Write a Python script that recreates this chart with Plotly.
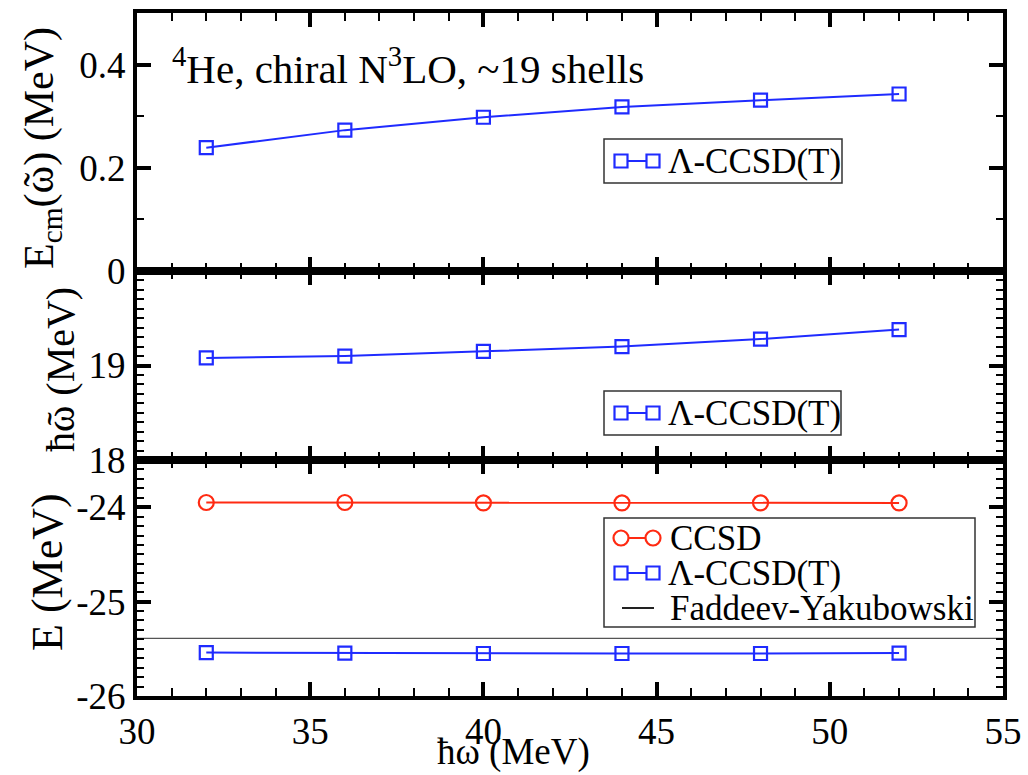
import plotly.graph_objects as go
from plotly.subplots import make_subplots

# Oscillator frequencies (MeV)
hw = [32, 36, 40, 44, 48, 52]

# Centre-of-mass energy E_cm(w~) from Lambda-CCSD(T)
ecm_lccsdt = [0.239, 0.273, 0.298, 0.318, 0.331, 0.343]

# Effective frequency hbar w~ from Lambda-CCSD(T)
hw_tilde_lccsdt = [19.08, 19.10, 19.15, 19.20, 19.28, 19.38]

# Ground-state energies (MeV)
e_ccsd = [-23.95, -23.95, -23.955, -23.955, -23.955, -23.955]
e_lccsdt = [-25.54, -25.545, -25.55, -25.55, -25.55, -25.545]
e_fy = -25.39
x_range = [30, 55]

# Tick labels
ecm_ticks = [0, 0.2, 0.4]
ecm_ticktext = ["0", "0.2", "0.4"]
hw_tilde_ticks = [18, 19]
hw_tilde_ticktext = ["18", "19"]
e_ticks = [-26, -25, -24]
e_ticktext = ["-26", "-25", "-24"]

BLUE = "#1f2bff"
RED = "#ff2a12"
FONT = "'Liberation Serif', 'Times New Roman', Times, serif"

# Figure geometry (pixels)
W, H = 1028, 775
ML, MR, MT, MB = 137, 25, 13, 79
PW, PH = W - ML - MR, H - MT - MB


def fx(px):
    return (px - ML) / PW


def fy(py):
    return (H - MB - py) / PH


fig = make_subplots(rows=3, cols=1, shared_xaxes=True, vertical_spacing=0,
                    row_heights=[258, 189, 236])

sq = dict(symbol="square-open", size=13, color=BLUE, line=dict(width=2.2, color=BLUE))
ci = dict(symbol="circle-open", size=15, color=RED, line=dict(width=2.2, color=RED))

fig.add_trace(go.Scatter(x=hw, y=ecm_lccsdt, mode="lines+markers", name="Λ-CCSD(T)",
                         line=dict(color=BLUE, width=2), marker=sq), row=1, col=1)
fig.add_trace(go.Scatter(x=hw, y=hw_tilde_lccsdt, mode="lines+markers", name="Λ-CCSD(T)",
                         line=dict(color=BLUE, width=2), marker=sq), row=2, col=1)
fig.add_trace(go.Scatter(x=x_range, y=[e_fy, e_fy], mode="lines", name="Faddeev-Yakubowski",
                         line=dict(color="#555555", width=1.3)), row=3, col=1)
fig.add_trace(go.Scatter(x=hw, y=e_ccsd, mode="lines+markers", name="CCSD",
                         line=dict(color=RED, width=2), marker=ci), row=3, col=1)
fig.add_trace(go.Scatter(x=hw, y=e_lccsdt, mode="lines+markers", name="Λ-CCSD(T)",
                         line=dict(color=BLUE, width=2), marker=sq), row=3, col=1)

axis_common = dict(showline=True, linewidth=4, linecolor="black", mirror="allticks",
                   ticks="inside", ticklen=14, tickwidth=4, tickcolor="black",
                   showgrid=False, zeroline=False, automargin=False,
                   tickfont=dict(family=FONT, size=37, color="black"))

for r in (1, 2, 3):
    fig.update_xaxes(**axis_common, range=x_range, dtick=5, tick0=30,
                     minor=dict(ticks="inside", ticklen=8, tickwidth=2, dtick=1,
                                tickcolor="black"),
                     showticklabels=(r == 3), row=r, col=1)

fig.update_yaxes(**axis_common, range=[0, 0.5], tickvals=ecm_ticks, ticktext=ecm_ticktext,
                 minor=dict(ticks="inside", ticklen=7, tickwidth=2, dtick=0.1, tick0=0,
                            tickcolor="black"), row=1, col=1)
fig.update_yaxes(**axis_common, range=[18, 20], tickvals=hw_tilde_ticks,
                 ticktext=hw_tilde_ticktext,
                 minor=dict(ticks="inside", ticklen=7, tickwidth=2, dtick=0.1, tick0=18,
                            tickcolor="black"), row=2, col=1)
fig.update_yaxes(**axis_common, range=[-26, -23.5], tickvals=e_ticks, ticktext=e_ticktext,
                 minor=dict(ticks="inside", ticklen=7, tickwidth=2, dtick=0.1, tick0=-26,
                            tickcolor="black"), row=3, col=1)

annotations = []
shapes = []


def text(s, x, y, size, angle=0, xanchor="left", yanchor="middle"):
    annotations.append(dict(text=s, xref="paper", yref="paper", x=fx(x), y=fy(y),
                            xanchor=xanchor, yanchor=yanchor, showarrow=False,
                            textangle=angle,
                            font=dict(family=FONT, size=size, color="black")))


# Axis titles
text("E<sub>cm</sub>(ῶ) (MeV)", 42, 148, 42, angle=-90, xanchor="center")
text("ħῶ (MeV)", 60, 370, 40, angle=-90, xanchor="center")
text("E (MeV)", 47, 572, 44, angle=-90, xanchor="center")
text("ħω (MeV)", 513, 775, 37, xanchor="center", yanchor="bottom")

# Panel label
text("<sup>4</sup>He, chiral N<sup>3</sup>LO, ~19 shells", 170, 66, 41)


# Legend boxes drawn in figure coordinates
def box(x0, y0, x1, y1):
    shapes.append(dict(type="rect", xref="paper", yref="paper",
                       x0=fx(x0), x1=fx(x1), y0=fy(y1), y1=fy(y0),
                       line=dict(color="#333333", width=1.5), fillcolor="white",
                       layer="above"))


def key(yc, color, symbol, x0=621, x1=653):
    shapes.append(dict(type="line", xref="paper", yref="paper",
                       x0=fx(x0), x1=fx(x1), y0=fy(yc), y1=fy(yc),
                       line=dict(color=color, width=2), layer="above"))
    if symbol is None:
        return
    r = 6.5 if symbol == "rect" else 7.5
    for xc in (x0, x1):
        shapes.append(dict(type=symbol, xref="paper", yref="paper",
                           x0=fx(xc - r), x1=fx(xc + r), y0=fy(yc + r), y1=fy(yc - r),
                           line=dict(color=color, width=2.2), fillcolor="white",
                           layer="above"))


box(604, 139, 842, 183)
key(161, BLUE, "rect")
text("Λ-CCSD(T)", 666, 161, 35)

box(604, 391, 841, 435)
key(413, BLUE, "rect")
text("Λ-CCSD(T)", 666, 413, 35)

box(604, 518, 975, 627)
key(538, RED, "circle")
text("CCSD", 668, 538, 35)
key(573, BLUE, "rect")
text("Λ-CCSD(T)", 666, 573, 35)
key(608, "#222222", None, x0=622, x1=654)
text("Faddeev-Yakubowski", 668, 608, 35)

fig.update_layout(
    width=W, height=H,
    margin=dict(l=ML, r=MR, t=MT, b=MB),
    paper_bgcolor="white", plot_bgcolor="white",
    showlegend=False,
    font=dict(family=FONT, color="black"),
    annotations=annotations,
    shapes=shapes,
)

fig.write_html("out.html")
